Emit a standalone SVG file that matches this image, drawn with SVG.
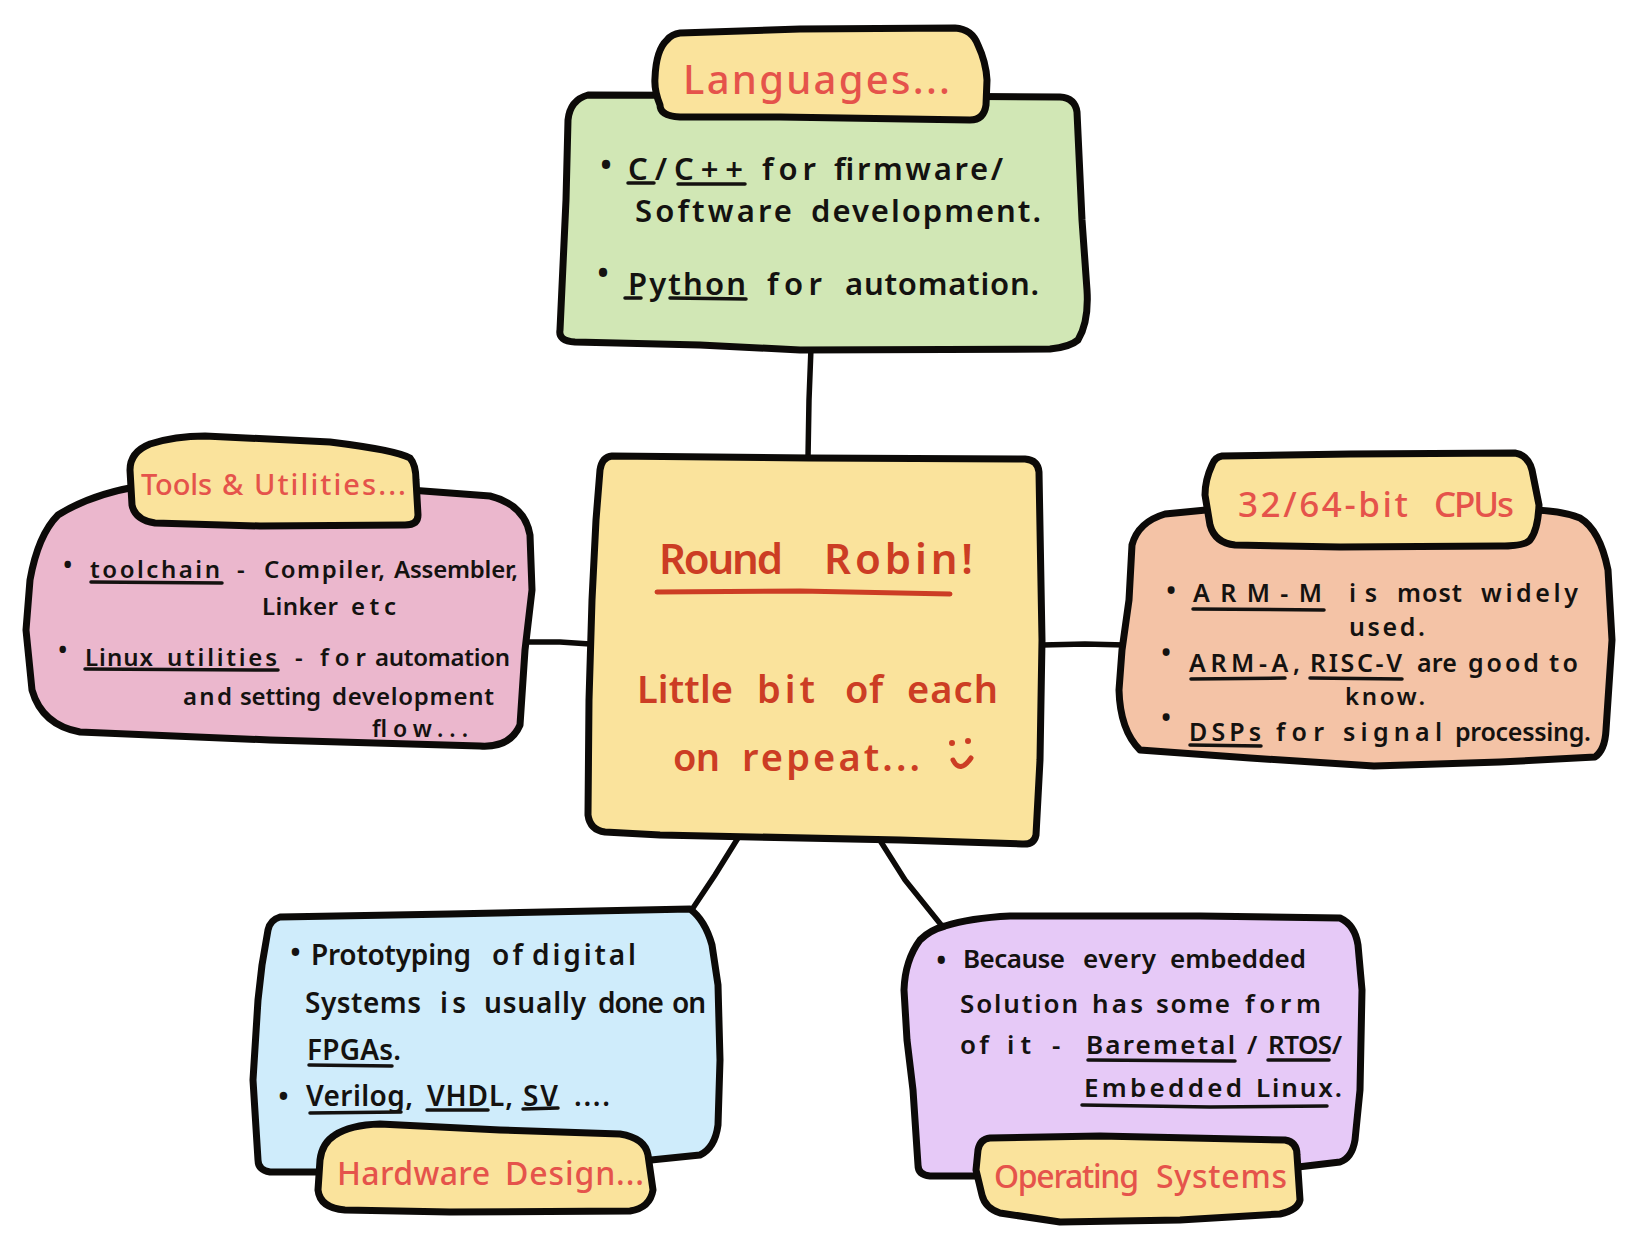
<svg xmlns="http://www.w3.org/2000/svg" width="1641" height="1254" viewBox="0 0 1641 1254">
<style>
text{font-family:"Noto Sans","Open Sans",sans-serif;fill:#141210;font-weight:600}
.box{stroke:#0c0a08;stroke-width:7;stroke-linejoin:round}
.con{fill:none;stroke:#0c0a08;stroke-width:5.5;stroke-linecap:round}
.ul{fill:none;stroke:#141210;stroke-width:3.5;stroke-linecap:round}
.yl{fill:#fae39c}
.r{fill:#e5534b;font-weight:500}
.c{fill:#cc3d24;font-weight:600}
.cl{fill:none;stroke:#cc3d24;stroke-width:5;stroke-linecap:round}
.s24{font-size:24px}.s25{font-size:25px}.s26{font-size:26px}.s27{font-size:27px}.s28{font-size:28px}.s29{font-size:29px}.s31{font-size:31px}.s32{font-size:32px}
</style>
<rect width="1641" height="1254" fill="#fff"/>
<g id="connectors">
<path class="con" d="M811 348 L809 400 L808 458"/>
<path class="con" d="M526 642 L560 642 L590 644"/>
<path class="con" d="M1042 645 L1085 644 L1125 645"/>
<path class="con" d="M738 838 L715 875 L691 911"/>
<path class="con" d="M881 842 L905 880 L942 926"/>
</g>
<g id="node-languages">
<path class="box" fill="#d1e7b5" d="M588 95 L900 96 L1060 97 Q1075 98 1077 112 L1082 220 L1087 290 Q1089 322 1078 340 Q1070 347 1050 349 L800 350 L700 345 L575 342 Q558 341 560 330 L566 200 L568 120 Q570 100 588 95Z"/>
<path class="box yl" d="M680 33 L800 29 L955 28 Q972 29 978 45 Q986 62 987 80 L986 105 Q984 120 970 120 L780 117 L680 117 Q660 116 660 105 Q654 90 655 78 Q656 50 667 40 Q672 34 680 33Z"/>
<text class="r" x="683" y="94" font-size="40" textLength="267">Languages...</text>
<text class="s32" x="600" y="176">•</text>
<text class="s31" y="180"><tspan x="628" textLength="115">C/C++</tspan> <tspan x="762" textLength="54">for</tspan> <tspan x="834" textLength="169">firmware/</tspan></text>
<text class="s31" y="222"><tspan x="635" textLength="157">Software</tspan> <tspan x="811" textLength="230">development.</tspan></text>
<text class="s32" x="597" y="284">•</text>
<text class="s31" y="295"><tspan x="628" textLength="118">Python</tspan> <tspan x="767" textLength="55">for</tspan> <tspan x="845" textLength="194">automation.</tspan></text>
<path class="ul" d="M628 183 L654 183M678 184 L745 184M625 298 L641 298M670 298 L746 299"/>
</g>
<g id="node-tools">
<path class="box" fill="#ebb7cd" d="M135 487 Q90 495 58 515 Q38 535 30 580 L26 630 L32 690 Q42 725 80 732 L270 740 L480 746 Q510 748 520 725 L525 650 L532 590 L530 535 Q525 505 490 496 L410 490 L135 487Z"/>
<path class="box yl" d="M150 444 Q175 436 205 436 L330 442 Q395 450 410 458 Q416 465 416 480 L418 515 Q418 525 405 525 L260 526 L155 523 Q135 520 132 505 L130 470 Q130 452 150 444Z"/>
<text class="r" y="495" font-size="29"><tspan x="141" textLength="71">Tools</tspan> <tspan x="222" textLength="21">&amp;</tspan> <tspan x="254" textLength="152">Utilities...</tspan></text>
<text class="s25" x="63" y="574">•</text>
<text class="s24" y="578"><tspan x="90" textLength="130">toolchain</tspan> <tspan x="237" textLength="12">-</tspan> <tspan x="264" textLength="121">Compiler,</tspan> <tspan x="394" textLength="124">Assembler,</tspan></text>
<text class="s24" y="615"><tspan x="262" textLength="76">Linker</tspan> <tspan x="351" textLength="45">etc</tspan></text>
<text class="s25" x="58" y="659">•</text>
<text class="s24" y="666"><tspan x="85" textLength="68">Linux</tspan> <tspan x="167" textLength="110">utilities</tspan> <tspan x="295" textLength="13">-</tspan> <tspan x="320" textLength="46">for</tspan> <tspan x="375" textLength="135">automation</tspan></text>
<text class="s24" y="705"><tspan x="183" textLength="49">and</tspan> <tspan x="240" textLength="81">setting</tspan> <tspan x="332" textLength="162">development</tspan></text>
<text font-size="23" x="372" y="737" textLength="96">flow...</text>
<path class="ul" d="M91 582 L222 583M85 669 L278 670"/>
</g>
<g id="node-cpus">
<path class="box" fill="#f4c3a6" d="M1206 510 L1165 514 Q1138 522 1132 545 L1129 600 L1122 650 L1119 690 Q1120 730 1140 750 L1250 758 L1374 766 L1500 762 L1595 757 Q1605 750 1606 730 L1612 640 L1608 570 Q1600 530 1580 518 Q1560 510 1530 510 L1206 510Z"/>
<path class="box yl" d="M1222 456 L1350 454 L1515 453 Q1528 455 1532 470 L1539 505 Q1538 530 1530 540 Q1525 546 1500 546 L1340 547 L1235 545 Q1215 543 1210 525 L1205 495 Q1205 480 1212 465 Q1215 457 1222 456Z"/>
<text class="r" y="517" font-size="35"><tspan x="1238" textLength="170">32/64-bit</tspan> <tspan x="1434" textLength="80">CPUs</tspan></text>
<text class="s27" x="1166" y="600">•</text>
<text class="s25" y="602"><tspan x="1193" textLength="129">ARM-M</tspan> <tspan x="1349" textLength="28">is</tspan> <tspan x="1397" textLength="65">most</tspan> <tspan x="1481" textLength="97">widely</tspan></text>
<text class="s25" x="1349" y="636" textLength="76">used.</text>
<text class="s27" x="1161" y="662">•</text>
<text class="s25" y="672"><tspan x="1189" textLength="111">ARM-A,</tspan> <tspan x="1310" textLength="92">RISC-V</tspan> <tspan x="1417" textLength="40">are</tspan> <tspan x="1468" textLength="71">good</tspan> <tspan x="1549" textLength="29">to</tspan></text>
<text class="s24" x="1345" y="705" textLength="80">know.</text>
<text class="s27" x="1161" y="727">•</text>
<text class="s25" y="741"><tspan x="1189" textLength="72">DSPs</tspan> <tspan x="1276" textLength="48">for</tspan> <tspan x="1343" textLength="99">signal</tspan> <tspan x="1455" textLength="136">processing.</tspan></text>
<path class="ul" d="M1193 609 L1324 610M1191 679 L1285 678M1310 678 L1402 679M1190 745 L1261 746"/>
</g>
<g id="node-center">
<path class="box yl" d="M612 456 L810 458 L1025 459 Q1038 460 1039 472 L1042 640 L1040 760 L1036 835 Q1034 845 1022 844 L900 840 L660 835 L605 832 Q590 830 588 815 L589 700 L592 600 L596 520 L600 470 Q602 457 612 456Z"/>
<text class="c" y="574" font-size="42"><tspan x="659" textLength="124">Round</tspan> <tspan x="824" textLength="149">Robin!</tspan></text>
<path class="cl" d="M657 592 L800 591 L950 594"/>
<text class="c" y="703" font-size="38"><tspan x="637" textLength="96">Little</tspan> <tspan x="757" textLength="58">bit</tspan> <tspan x="845" textLength="38">of</tspan> <tspan x="907" textLength="91">each</tspan></text>
<text class="c" y="771" font-size="38"><tspan x="673" textLength="47">on</tspan> <tspan x="742" textLength="178">repeat...</tspan></text>
<path fill="#cc3d24" d="M949 743a3 3 0 1 0 6 0a3 3 0 1 0 -6 0M965 741a3 3 0 1 0 6 0a3 3 0 1 0 -6 0"/>
<path class="cl" d="M953 760 Q960 774 971 758"/>
</g>
<g id="node-hardware">
<path class="box" fill="#cfecfb" d="M280 917 L450 914 L690 909 Q705 920 712 945 L718 985 L720 1060 L718 1125 Q715 1148 700 1155 L651 1160 L319 1172 L270 1172 Q258 1170 258 1160 L253 1080 L258 1000 L262 965 L268 930 Q270 920 280 917Z"/>
<path class="box yl" d="M335 1135 Q350 1125 380 1124 L500 1130 L620 1134 Q645 1138 648 1155 L653 1190 Q650 1208 630 1211 L450 1212 L345 1210 Q320 1208 318 1190 L320 1160 Q322 1143 335 1135Z"/>
<text class="r" y="1185" font-size="32"><tspan x="337" textLength="153">Hardware</tspan> <tspan x="505" textLength="139">Design...</tspan></text>
<text class="s29" x="290" y="962">•</text>
<text class="s28" y="965"><tspan x="311" textLength="160">Prototyping</tspan> <tspan x="492" textLength="31">of</tspan> <tspan x="532" textLength="104">digital</tspan></text>
<text class="s28" y="1013"><tspan x="305" textLength="116">Systems</tspan> <tspan x="440" textLength="26">is</tspan> <tspan x="484" textLength="102">usually</tspan> <tspan x="598" textLength="66">done</tspan> <tspan x="672" textLength="34">on</tspan></text>
<text class="s28" x="307" y="1060" textLength="94">FPGAs.</text>
<text class="s29" x="278" y="1106">•</text>
<text class="s28" y="1106"><tspan x="306" textLength="107">Verilog,</tspan> <tspan x="427" textLength="86">VHDL,</tspan> <tspan x="523" textLength="35">SV</tspan> <tspan x="574" textLength="36">....</tspan></text>
<path class="ul" d="M309 1065 L392 1066M310 1113 L401 1112M427 1110 L488 1110M523 1109 L558 1108"/>
</g>
<g id="node-os">
<path class="box" fill="#e6c9f7" d="M945 926 Q970 918 1010 916 L1200 916 L1340 918 Q1355 925 1358 945 L1362 990 L1360 1090 L1355 1140 Q1352 1158 1340 1162 L1298 1167 L975 1176 L930 1176 Q918 1175 918 1165 L913 1090 L907 1040 L904 990 Q905 960 920 940 Q930 930 945 926Z"/>
<path class="box yl" d="M990 1138 L1100 1136 L1285 1140 Q1297 1142 1297 1155 L1300 1200 Q1298 1210 1280 1214 L1180 1220 L1060 1222 L1000 1213 Q985 1208 982 1195 L976 1170 L978 1150 Q980 1139 990 1138Z"/>
<text class="r" y="1188" font-size="32"><tspan x="994" textLength="145">Operating</tspan> <tspan x="1156" textLength="131">Systems</tspan></text>
<text class="s28" x="936" y="970">•</text>
<text class="s26" y="968"><tspan x="963" textLength="102">Because</tspan> <tspan x="1083" textLength="73">every</tspan> <tspan x="1170" textLength="136">embedded</tspan></text>
<text class="s26" y="1013"><tspan x="960" textLength="118">Solution</tspan> <tspan x="1092" textLength="51">has</tspan> <tspan x="1156" textLength="74">some</tspan> <tspan x="1245" textLength="76">form</tspan></text>
<text class="s26" y="1054"><tspan x="960" textLength="29">of</tspan> <tspan x="1007" textLength="24">it</tspan> <tspan x="1052" textLength="16">-</tspan> <tspan x="1086" textLength="149">Baremetal</tspan> <tspan x="1247" textLength="11">/</tspan> <tspan x="1268" textLength="74">RTOS/</tspan></text>
<text class="s26" y="1097"><tspan x="1084" textLength="158">Embedded</tspan> <tspan x="1256" textLength="86">Linux.</tspan></text>
<path class="ul" d="M1088 1060 L1235 1061M1268 1060 L1329 1060M1082 1105 L1210 1107 L1327 1106"/>
</g>
</svg>
